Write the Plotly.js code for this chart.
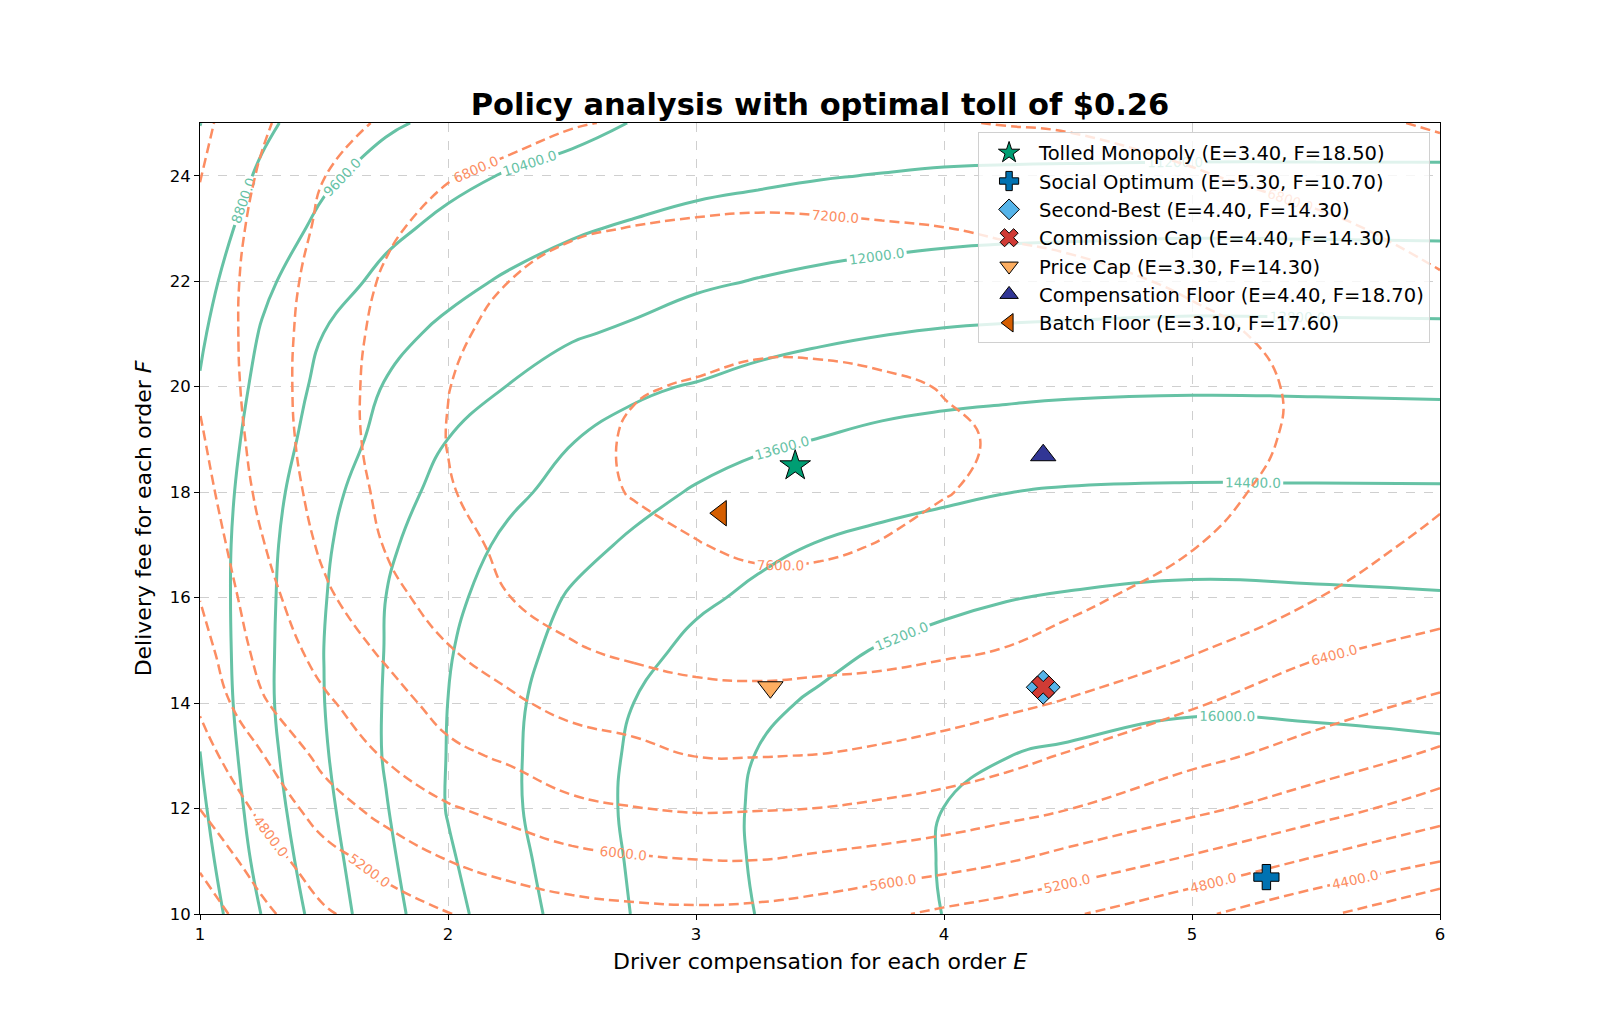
<!DOCTYPE html>
<html><head><meta charset="utf-8">
<script src="https://cdn.plot.ly/plotly-3.0.1.min.js"></script>
<style>html,body{margin:0;padding:0;background:#fff}</style>
</head><body>
<div id="chart" style="width:1600px;height:1027px"></div>
<script>
// Grid axes (driver compensation E, delivery fee F)
const E_GRID = [1, 1.25, 1.5, 1.75, 2, 2.25, 2.5, 2.75, 3, 3.25, 3.5, 3.75, 4, 4.25, 4.5, 5, 5.5, 6];
const F_GRID = [10, 11, 12, 13, 14, 15, 16, 17, 18, 19, 20, 21, 22, 23, 24, 25];

// Social welfare surface (teal, solid); rows = F, cols = E
const WELFARE = [
  [8300, 9624, 10750, 11733, 12554, 13269, 13890, 14432, 14832, 15221, 15488, 15755, 16010, 16140, 16213, 16313, 16300, 16262],
  [8480, 9850, 10890, 11848, 12700, 13387, 13968, 14482, 14906, 15264, 15543, 15797, 16030, 16150, 16227, 16327, 16315, 16277],
  [8650, 10000, 11020, 11962, 12838, 13484, 14037, 14527, 14923, 15274, 15524, 15764, 16005, 16100, 16172, 16271, 16257, 16218],
  [8790, 10118, 11125, 12062, 12825, 13493, 14025, 14497, 14877, 15223, 15429, 15608, 15830, 15995, 16050, 16145, 16128, 16086],
  [8910, 10200, 11190, 12059, 12805, 13467, 13970, 14403, 14745, 15078, 15280, 15500, 15600, 15740, 15860, 15948, 15926, 15881],
  [8995, 10194, 11205, 12029, 12743, 13341, 13860, 14200, 14553, 14770, 15046, 15242, 15360, 15480, 15570, 15683, 15652, 15603],
  [9040, 10178, 11160, 12003, 12625, 13160, 13680, 13973, 14290, 14514, 14738, 14880, 15082, 15176, 15250, 15347, 15306, 15252],
  [9048, 10147, 11090, 11877, 12454, 12950, 13357, 13719, 13976, 14259, 14431, 14565, 14688, 14784, 14852, 14916, 14892, 14868],
  [9018, 10063, 10957, 11697, 12238, 12664, 13027, 13360, 13663, 13820, 14027, 14180, 14284, 14391, 14452, 14486, 14482, 14478],
  [8950, 9943, 10755, 11437, 12004, 12385, 12780, 12998, 13263, 13506, 13612, 13766, 13854, 13923, 13978, 14012, 14005, 13990],
  [8843, 9809, 10603, 11247, 11640, 12027, 12373, 12705, 12842, 13035, 13157, 13294, 13386, 13436, 13480, 13520, 13504, 13475],
  [8700, 9662, 10410, 10978, 11367, 11644, 11930, 12117, 12364, 12544, 12684, 12784, 12863, 12906, 12936, 12983, 12971, 12956],
  [8530, 9448, 10080, 10580, 10988, 11297, 11510, 11701, 11886, 12031, 12158, 12254, 12331, 12376, 12400, 12443, 12432, 12416],
  [8360, 9171, 9780, 10236, 10580, 10862, 11120, 11285, 11429, 11552, 11654, 11735, 11803, 11844, 11864, 11899, 11889, 11870],
  [8180, 8914, 9480, 9867, 10200, 10459, 10650, 10834, 10990, 11070, 11160, 11225, 11283, 11307, 11320, 11335, 11333, 11330],
  [7990, 8645, 9200, 9504, 9750, 9963, 10160, 10430, 10600, 10650, 10700, 10740, 10780, 10790, 10800, 10820, 10820, 10820]
];

// Platform profit surface (orange, dashed); rows = F, cols = E
const PROFIT = [
  [3750, 4295, 4750, 5000, 5190, 5340, 5450, 5500, 5520, 5490, 5410, 5270, 5120, 4990, 4850, 4480, 4080, 3630],
  [4070, 4600, 5037, 5333, 5595, 5760, 5868, 5940, 5985, 5990, 5919, 5845, 5756, 5620, 5451, 5129, 4741, 4402],
  [4405, 4891, 5400, 5743, 5964, 6118, 6320, 6390, 6436, 6420, 6395, 6330, 6249, 6140, 6011, 5693, 5377, 4997],
  [4635, 5179, 5722, 6032, 6303, 6465, 6629, 6683, 6808, 6810, 6790, 6730, 6644, 6520, 6368, 6109, 5840, 5526],
  [4855, 5560, 5944, 6232, 6557, 6749, 6900, 7010, 7092, 7100, 7076, 7040, 6972, 6880, 6771, 6440, 6169, 5930],
  [5036, 5738, 6141, 6467, 6780, 6950, 7170, 7260, 7310, 7340, 7320, 7300, 7250, 7190, 7070, 6839, 6452, 6276],
  [5211, 5848, 6329, 6690, 6964, 7198, 7322, 7410, 7470, 7510, 7505, 7460, 7400, 7340, 7289, 7034, 6808, 6580],
  [5326, 5976, 6472, 6822, 7097, 7271, 7435, 7506, 7590, 7650, 7643, 7590, 7530, 7470, 7409, 7218, 6963, 6720],
  [5440, 6100, 6554, 6882, 7179, 7330, 7502, 7618, 7680, 7710, 7710, 7680, 7610, 7550, 7481, 7301, 7076, 6856],
  [5550, 6166, 6604, 6929, 7210, 7348, 7525, 7628, 7690, 7720, 7714, 7690, 7635, 7575, 7505, 7338, 7137, 6914],
  [5650, 6189, 6620, 6927, 7195, 7311, 7502, 7585, 7615, 7660, 7653, 7640, 7590, 7540, 7481, 7329, 7148, 6930],
  [5700, 6185, 6604, 6898, 7145, 7290, 7435, 7490, 7530, 7545, 7550, 7510, 7470, 7440, 7409, 7273, 7107, 6901],
  [5710, 6167, 6554, 6843, 7059, 7202, 7322, 7370, 7400, 7420, 7430, 7390, 7340, 7315, 7289, 7157, 7014, 6830],
  [5670, 6124, 6472, 6743, 6936, 7000, 7163, 7210, 7240, 7260, 7250, 7230, 7205, 7165, 7120, 6993, 6871, 6688],
  [5590, 6050, 6395, 6576, 6778, 6880, 6960, 7010, 7050, 7060, 7050, 7030, 7003, 6975, 6942, 6828, 6680, 6528],
  [5500, 5943, 6300, 6433, 6560, 6680, 6780, 6830, 6880, 6890, 6880, 6850, 6815, 6790, 6770, 6660, 6480, 6370]
];

// Policy points
const POLICY_NAMES = ['Tolled Monopoly', 'Social Optimum', 'Second-Best', 'Commission Cap', 'Price Cap', 'Compensation Floor', 'Batch Floor'];
const POLICY_E = [3.40, 5.30, 4.40, 4.40, 3.30, 4.40, 3.10];
const POLICY_F = [18.50, 10.70, 14.30, 14.30, 14.30, 18.70, 17.60];
const POLICY_SYMBOLS = ['star', 'cross', 'diamond', 'x', 'triangle-down', 'triangle-up', 'triangle-left'];
const POLICY_COLORS = ['#009E73', '#0072B2', '#56B4E9', '#D03B35', '#FDAE61', '#313695', '#D55E00'];
const POLICY_SIZES = [23, 21, 26, 20, 22, 22, 22];

const TEAL = '#66c2a5';
const ORANGE = '#fc8d62';
const FONT = 'DejaVu Sans, Liberation Sans, sans-serif';

const traces = [];
traces.push({
  type: 'contour', x: E_GRID, y: F_GRID, z: WELFARE,
  autocontour: false,
  contours: { coloring: 'none', start: 8000, end: 16000, size: 800, showlabels: true,
              labelformat: '.1f', labelfont: { family: FONT, size: 13.5, color: TEAL } },
  line: { color: TEAL, width: 3, dash: 'solid', smoothing: 1.3 },
  showscale: false, showlegend: false, hoverinfo: 'skip'
});
traces.push({
  type: 'contour', x: E_GRID, y: F_GRID, z: PROFIT,
  autocontour: false,
  contours: { coloring: 'none', start: 4000, end: 7600, size: 400, showlabels: true,
              labelformat: '.1f', labelfont: { family: FONT, size: 13.5, color: ORANGE } },
  line: { color: ORANGE, width: 2.5, dash: '10px,5px', smoothing: 1.3 },
  showscale: false, showlegend: false, hoverinfo: 'skip'
});
for (let i = 0; i < POLICY_NAMES.length; i++) {
  traces.push({
    type: 'scatter', mode: 'markers',
    x: [POLICY_E[i]], y: [POLICY_F[i]],
    name: POLICY_NAMES[i] + ' (E=' + POLICY_E[i].toFixed(2) + ', F=' + POLICY_F[i].toFixed(2) + ')',
    legendgroup: 'g' + i,
    marker: { symbol: POLICY_SYMBOLS[i], size: POLICY_SIZES[i], color: POLICY_COLORS[i],
              line: { color: '#000000', width: 1 } },
    hoverinfo: 'name'
  });
}

const axisCommon = {
  showline: true, mirror: true, linecolor: '#000', linewidth: 1,
  ticks: 'outside', ticklen: 5, tickwidth: 1, tickcolor: '#000',
  showgrid: true, gridcolor: '#cfcfcf', gridwidth: 1, griddash: 'dash',
  zeroline: false, tickfont: { family: FONT, size: 16.5, color: '#000' }
};

const layout = {
  width: 1600, height: 1027,
  margin: { l: 200, r: 160, t: 123, b: 113 },
  paper_bgcolor: '#fff', plot_bgcolor: '#fff',
  font: { family: FONT, color: '#000' },
  title: { text: '<b>Policy analysis with optimal toll of $0.26</b>',
           font: { family: FONT, size: 30.5, color: '#000' },
           x: 0.5, xref: 'paper', xanchor: 'center', y: 0.898, yref: 'container', yanchor: 'middle' },
  xaxis: Object.assign({}, axisCommon, {
    range: [1, 6], tickvals: [1, 2, 3, 4, 5, 6], ticktext: ['1', '2', '3', '4', '5', '6'],
    title: { text: 'Driver compensation for each order <i>E</i>', font: { family: FONT, size: 22, color: '#000' }, standoff: 10 }
  }),
  yaxis: Object.assign({}, axisCommon, {
    range: [10, 25], tickvals: [10, 12, 14, 16, 18, 20, 22, 24],
    title: { text: 'Delivery fee for each order <i>F</i>', font: { family: FONT, size: 22, color: '#000' }, standoff: 12 }
  }),
  legend: {
    x: 0.992, xanchor: 'right', y: 0.988, yanchor: 'top',
    bgcolor: 'rgba(255,255,255,0.8)', bordercolor: '#d0d0d0', borderwidth: 1,
    font: { family: FONT, size: 19.5, color: '#000' }, tracegroupgap: 0,
    itemsizing: 'trace', itemwidth: 50
  },
  showlegend: true
};

Plotly.newPlot('chart', traces, layout, { staticPlot: true, displayModeBar: false });
</script>
</body></html>
